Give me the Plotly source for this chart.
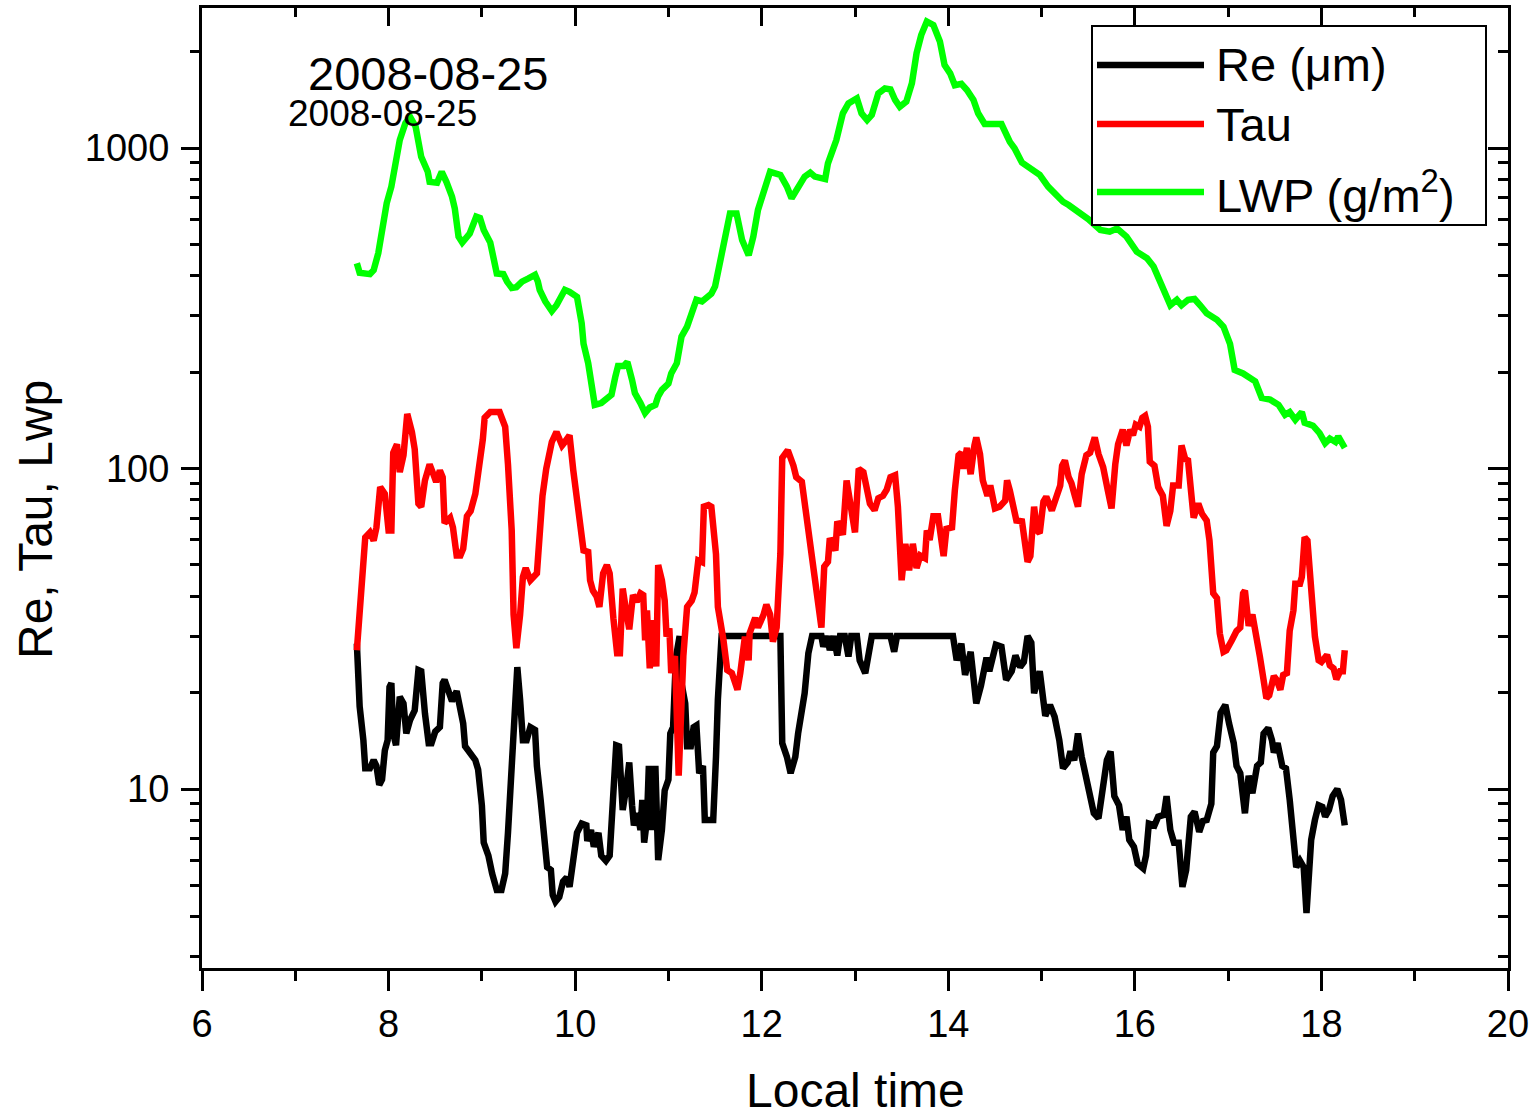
import plotly.graph_objects as go

# ---------------- data ----------------
re_time = [7.66,7.69,7.73,7.75,7.80,7.84,7.87,7.90,7.93,7.96,
           7.99,8.01,8.03,8.05,8.08,8.12,8.16,8.19,8.23,8.28,
           8.32,8.35,8.39,8.43,8.46,8.50,8.55,8.58,8.60,8.64,
           8.68,8.73,8.77,8.80,8.82,8.87,8.93,8.96,9.00,9.02,
           9.07,9.11,9.16,9.21,9.25,9.28,9.32,9.36,9.38,9.41,
           9.44,9.48,9.52,9.57,9.59,9.63,9.67,9.70,9.74,9.76,
           9.79,9.83,9.87,9.91,9.94,9.98,10.02,10.07,10.12,10.13,
           10.17,10.20,10.25,10.28,10.33,10.37,10.40,10.44,10.47,10.51,
           10.55,10.58,10.61,10.63,10.67,10.70,10.72,10.74,10.77,10.79,
           10.82,10.86,10.89,10.93,10.96,11.00,11.02,11.05,11.08,11.12,
           11.14,11.18,11.20,11.24,11.27,11.30,11.33,11.37,11.39,11.45,
           11.48,11.51,11.53,11.57,12.16,12.20,12.22,12.27,12.31,12.36,
           12.39,12.46,12.50,12.54,12.64,12.66,12.70,12.73,12.77,12.81,
           12.84,12.89,12.93,12.96,13.02,13.05,13.11,13.14,13.18,13.38,
           13.42,13.45,14.05,14.09,14.14,14.18,14.24,14.30,14.35,14.41,
           14.44,14.51,14.57,14.62,14.68,14.72,14.77,14.81,14.85,14.89,
           14.92,14.98,15.04,15.09,15.14,15.19,15.23,15.28,15.31,15.35,
           15.39,15.43,15.48,15.52,15.56,15.61,15.66,15.70,15.74,15.78,
           15.83,15.87,15.91,15.94,15.99,16.03,16.09,16.12,16.15,16.21,
           16.25,16.31,16.34,16.38,16.42,16.47,16.51,16.55,16.60,16.64,
           16.69,16.73,16.77,16.82,16.84,16.88,16.92,16.97,17.01,17.06,
           17.09,17.13,17.18,17.22,17.26,17.31,17.35,17.38,17.43,17.47,
           17.49,17.53,17.58,17.62,17.66,17.69,17.73,17.77,17.81,17.84,
           17.87,17.89,17.93,17.97,18.01,18.04,18.08,18.12,18.17,18.21,
           18.25]
re_val = [28.4,18.1,14.2,11.6,11.6,12.3,11.8,10.3,10.7,13.2,
          14.2,20.8,21.4,14.9,13.7,19.4,18.5,14.9,16.4,17.6,
          23.5,23.3,17.2,13.9,13.9,15.1,15.6,21.4,21.9,20.4,
          18.8,20.2,18.1,16.0,13.6,13.0,12.3,11.5,8.9,6.8,
          6.2,5.45,4.84,4.84,5.45,7.3,11.8,22.6,24.0,19.0,
          14.2,14.2,15.6,15.3,11.8,9.25,7.3,5.7,5.59,4.67,
          4.45,4.6,5.14,5.3,4.95,6.2,7.3,7.8,7.7,6.88,
          7.45,6.6,7.3,6.2,5.97,6.2,9.7,13.7,13.6,8.6,
          10.2,12.1,8.9,7.7,8.4,7.45,9.25,6.8,8.0,11.8,
          7.45,11.8,6.0,7.45,9.9,10.7,14.9,15.6,25.7,30,
          21.4,18.5,13.6,13.6,15.6,15.8,11.2,11.8,8.0,7.95,
          8.0,12.6,19,30,30,30,13.9,12.6,11.2,12.6,
          14.9,19.9,26.5,30,30,27.8,30,27.1,30,26.1,
          30,30,25.9,30,30,25.2,23,25.2,30,30,
          26.8,30,30,25.2,28.4,22.7,26.8,18.5,21,25.7,
          23.3,28.2,27.8,21.9,23.3,26.1,24,24.9,30,28.6,
          19.9,23.3,16.9,18.3,16.8,14.2,11.6,12.1,13.1,12.3,
          14.9,12.6,10.7,9.55,8.4,8.1,10.2,12.3,13.1,9.5,
          8.9,7.45,8.2,6.94,6.6,5.85,5.65,6.2,7.8,7.7,
          8.2,8.3,9.5,7.45,6.8,6.8,4.95,5.59,8.2,8.5,
          7.35,7.95,8.0,9.0,13.0,13.6,17.3,18.3,16.0,13.9,
          11.8,11.2,8.4,11.0,9.7,11.8,12.1,14.9,15.5,14.2,
          13.0,13.9,11.8,11.6,9.25,7.3,5.7,5.97,5.7,4.1,
          5.45,6.94,8.0,8.9,8.8,8.2,8.6,9.5,10.0,9.25,
          7.7]

tau_time = [7.66,7.69,7.75,7.80,7.84,7.87,7.91,7.96,8.00,8.03,
            8.05,8.09,8.12,8.16,8.20,8.25,8.28,8.32,8.35,8.39,
            8.44,8.48,8.51,8.55,8.58,8.60,8.66,8.69,8.73,8.77,
            8.80,8.84,8.88,8.93,8.98,9.01,9.03,9.09,9.19,9.25,
            9.28,9.32,9.34,9.37,9.41,9.44,9.47,9.52,9.59,9.62,
            9.65,9.69,9.75,9.80,9.86,9.89,9.94,9.98,10.03,10.09,
            10.14,10.16,10.19,10.23,10.26,10.30,10.34,10.37,10.41,10.45,
            10.48,10.51,10.54,10.58,10.62,10.66,10.70,10.73,10.75,10.77,
            10.80,10.84,10.87,10.89,10.93,10.96,10.98,11.01,11.03,11.07,
            11.11,11.16,11.20,11.25,11.28,11.32,11.36,11.38,11.43,11.46,
            11.51,11.53,11.59,11.63,11.68,11.74,11.77,11.82,11.86,11.87,
            11.93,11.96,12.02,12.05,12.09,12.12,12.16,12.20,12.22,12.28,
            12.34,12.37,12.43,12.46,12.52,12.57,12.64,12.67,12.71,12.73,
            12.79,12.81,12.87,12.91,12.96,13.00,13.04,13.09,13.16,13.21,
            13.25,13.30,13.34,13.38,13.43,13.46,13.50,13.54,13.58,13.62,
            13.66,13.70,13.75,13.77,13.80,13.84,13.89,13.93,13.95,13.98,
            14.04,14.07,14.11,14.14,14.16,14.20,14.24,14.28,14.30,14.34,
            14.37,14.42,14.45,14.50,14.55,14.61,14.63,14.66,14.70,14.73,
            14.79,14.81,14.85,14.88,14.92,14.95,14.98,15.02,15.05,15.11,
            15.16,15.20,15.22,15.25,15.29,15.32,15.36,15.39,15.43,15.48,
            15.52,15.57,15.61,15.66,15.71,15.75,15.79,15.82,15.87,15.91,
            15.95,15.98,16.01,16.05,16.08,16.11,16.14,16.16,16.21,16.25,
            16.30,16.34,16.38,16.41,16.47,16.50,16.54,16.57,16.63,16.68,
            16.72,16.77,16.80,16.84,16.88,16.91,16.95,16.98,17.04,17.09,
            17.13,17.16,17.18,17.22,17.26,17.31,17.34,17.38,17.41,17.44,
            17.49,17.52,17.56,17.59,17.63,17.66,17.70,17.72,17.77,17.79,
            17.82,17.85,17.88,17.90,17.93,17.97,18.00,18.06,18.09,18.13,
            18.16,18.20,18.23,18.25]
tau_val = [27.1,35.0,61.0,63.2,59.6,65.5,87.5,83.3,64.1,64.1,
           112,119,97.4,110,148,130,115,77.7,76.0,91.8,
           103,96,90.8,98.6,94,67.6,70.2,65.5,53.5,53.5,
           56.2,71,73.7,83.3,105,123,144,150,150,135,
           103,64.1,35.0,27.5,35.0,45.9,48.9,44.8,47.1,67.6,
           82.2,99.8,121,130,118,121,127,98.6,76.9,55.5,
           54.9,44.8,41.6,39.9,37.0,47.1,50.0,47.1,34.1,26.5,
           26.5,42.2,37.0,31.5,40.3,38.4,40.8,40.3,29.1,36.1,
           23.8,33.6,24.1,50.0,44.8,38.7,29.9,31.7,23.0,26.0,
           11.0,26.0,37.0,38.7,41.0,51.6,51.0,76.0,76.9,76.0,
           54.0,37.0,29.1,23.5,23.0,20.4,23.0,29.9,25.2,30.6,
           34.2,31.9,35.0,37.6,35.0,28.8,31.9,54.2,108,114,
           102,94,91,78,54.2,42.7,31.9,49.4,51.2,60.6,
           55.5,68.4,62.1,91.8,73.7,63.2,99.8,97.4,77.7,74.1,
           80.8,82.2,85.9,94,95.3,76,44.8,58.2,48.1,58.2,
           48.9,53.5,52.5,64.1,59.8,71,71,57.4,53.3,64.8,
           65.5,85.4,110,112,99.8,116,96,118,125,111,
           91.8,82.2,88.5,75.1,76,79.4,91.8,85.4,76,68.8,
           68.4,63.2,51.2,53.3,76,64.1,62.9,78.8,81.6,74,
           80.8,88.5,102,106,94,90,81.6,76,96,110,
           112,125,111,101,85.4,75.1,103,119,132,118,
           132,127,137,135,144,146,135,105,102,87.5,
           82.2,66.2,73.7,88.5,88.5,118,107,106,70.2,77.7,
           72.2,68.8,59.6,40.8,39.4,30.6,26.8,27.1,29.1,31.1,
           31.9,40.8,41.6,32.3,35,27.8,25.9,21.9,19.2,19.6,
           22.5,21.9,20.4,22.7,23.0,31.2,36.1,43.7,43.7,45.9,
           61,59.6,47.1,36.1,29.9,25.2,24.9,26.2,24.3,23.8,
           22.0,23.3,23.3,27.1]

lwp_time = [7.66,7.69,7.80,7.84,7.89,7.94,7.98,8.03,8.07,8.12,
            8.18,8.23,8.29,8.35,8.42,8.44,8.52,8.57,8.62,8.68,
            8.71,8.75,8.79,8.87,8.94,8.98,9.02,9.09,9.16,9.23,
            9.27,9.32,9.37,9.43,9.50,9.57,9.60,9.62,9.68,9.75,
            9.80,9.84,9.89,9.94,10.02,10.07,10.09,10.14,10.18,10.21,
            10.28,10.34,10.39,10.43,10.46,10.52,10.56,10.61,10.64,10.70,
            10.75,10.80,10.86,10.89,10.93,11.00,11.03,11.09,11.14,11.20,
            11.25,11.30,11.36,11.41,11.46,11.50,11.55,11.61,11.66,11.73,
            11.79,11.86,11.91,11.96,12.02,12.09,12.20,12.27,12.32,12.37,
            12.46,12.52,12.57,12.68,12.71,12.80,12.87,12.93,13.02,13.07,
            13.13,13.18,13.25,13.32,13.38,13.43,13.48,13.55,13.61,13.66,
            13.71,13.77,13.84,13.91,13.96,14.02,14.07,14.14,14.20,14.27,
            14.32,14.39,14.50,14.57,14.66,14.71,14.79,14.88,14.98,15.07,
            15.13,15.18,15.23,15.29,15.38,15.50,15.63,15.73,15.81,15.91,
            16.02,16.13,16.20,16.30,16.38,16.45,16.50,16.57,16.64,16.70,
            16.77,16.88,16.95,17.02,17.07,17.16,17.29,17.36,17.45,17.54,
            17.61,17.66,17.72,17.79,17.82,17.91,17.98,18.04,18.09,18.15,
            18.18,18.25]
lwp_val = [437,408,404,416,470,582,673,758,896,1059,
           1194,1252,1166,939,843,784,779,843,784,705,
           647,529,507,541,611,605,555,507,406,404,
           383,366,368,383,392,402,383,361,332,310,
           323,339,361,356,343,284,245,213,176,158,
           160,166,170,193,209,209,215,189,172,160,
           149,155,158,168,176,184,198,213,258,277,
           305,336,332,343,351,370,430,516,625,625,
           516,463,529,641,722,843,824,758,697,739,
           814,838,814,800,896,1059,1283,1378,1429,1283,
           1222,1268,1480,1535,1523,1412,1345,1395,1593,1975,
           2250,2480,2420,2150,1815,1710,1570,1585,1517,1412,
           1283,1188,1180,1188,1045,998,900,864,824,758,
           730,697,680,664,637,600,555,548,561,529,
           475,453,427,366,323,336,323,336,338,323,
           305,291,277,245,203,198,187,166,164,158,
           147,150,142,150,139,136,129,120,124,121,
           126,116]

series_names = ["Re (\u03bcm)", "Tau", "LWP (g/m<sup>2</sup>)"]
series_colors = ["#000000", "#ff0000", "#00ff00"]
annotation_big = "2008-08-25"
annotation_small = "2008-08-25"
x_title = "Local time"
y_title = "Re, Tau, Lwp"

x_major = [6, 8, 10, 12, 14, 16, 18, 20]
x_minor = [7, 9, 11, 13, 15, 17, 19]
y_major = [10, 100, 1000]
y_major_text = ["10", "100", "1000"]
y_minor = [3, 4, 5, 6, 7, 8, 9, 20, 30, 40, 50, 60, 70, 80, 90,
           200, 300, 400, 500, 600, 700, 800, 900, 2000]

# ---------------- layout geometry ----------------
W, H = 1537, 1117
L, R, T, B = 202, 29, 8, 149
PW, PH = W - L - R, H - T - B
FONT = "Liberation Sans, Arial, Helvetica, sans-serif"


def px(x):
    return (x - L) / PW


def py(y):
    return (H - B - y) / PH


LINE_W = 6.5

fig = go.Figure()
for xs, ys, name, col in [(re_time, re_val, series_names[0], series_colors[0]),
                          (tau_time, tau_val, series_names[1], series_colors[1]),
                          (lwp_time, lwp_val, series_names[2], series_colors[2])]:
    fig.add_trace(go.Scatter(x=xs, y=ys, mode="lines", name=name,
                             line=dict(color=col, width=LINE_W),
                             showlegend=False))

# transparent trace so the mirrored (top/right) axes are drawn
fig.add_trace(go.Scatter(x=lwp_time, y=lwp_val, xaxis="x2", yaxis="y2",
                         mode="lines", line=dict(width=0, color="rgba(0,0,0,0)"),
                         hoverinfo="skip", showlegend=False))

yrange = [0.4415, 3.4368]
tickfont = dict(family=FONT, size=38, color="black")

fig.update_layout(
    width=W, height=H,
    margin=dict(l=L, r=R, t=T, b=B, pad=0),
    paper_bgcolor="white", plot_bgcolor="white",
    font=dict(family=FONT, color="black"),
    showlegend=False,
    xaxis=dict(range=[6, 20], showline=True, linewidth=3, linecolor="black",
               ticks="outside", tickmode="array", tickvals=x_major,
               ticklen=20, tickwidth=3, tickcolor="black",
               minor=dict(tickmode="array", tickvals=x_minor, ticks="outside",
                          ticklen=10, tickwidth=3, tickcolor="black", showgrid=False),
               showgrid=False, zeroline=False, tickfont=tickfont),
    yaxis=dict(type="log", range=yrange, showline=True, linewidth=3, linecolor="black",
               ticks="outside", tickmode="array", tickvals=y_major, ticktext=y_major_text,
               ticklen=18, tickwidth=3, tickcolor="black", ticklabelstandoff=4,
               minor=dict(tickmode="array", tickvals=y_minor, ticks="outside",
                          ticklen=9, tickwidth=3, tickcolor="black", showgrid=False),
               showgrid=False, zeroline=False, tickfont=tickfont),
    xaxis2=dict(range=[6, 20], overlaying="x", side="top", anchor="y",
                showline=True, linewidth=3, linecolor="black",
                ticks="inside", tickmode="array", tickvals=x_major,
                ticklen=18, tickwidth=3, tickcolor="black",
                minor=dict(tickmode="array", tickvals=x_minor, ticks="inside",
                           ticklen=9, tickwidth=3, tickcolor="black", showgrid=False),
                showticklabels=False, showgrid=False, zeroline=False),
    yaxis2=dict(type="log", range=yrange, overlaying="y", side="right", anchor="x",
                showline=True, linewidth=3, linecolor="black",
                ticks="inside", tickmode="array", tickvals=y_major,
                ticklen=20, tickwidth=3, tickcolor="black",
                minor=dict(tickmode="array", tickvals=y_minor, ticks="inside",
                           ticklen=10, tickwidth=3, tickcolor="black", showgrid=False),
                showticklabels=False, showgrid=False, zeroline=False),
)

shapes = []
annotations = []

# custom legend box
shapes.append(dict(type="rect", xref="paper", yref="paper",
                   x0=px(1092), x1=px(1486), y0=py(225), y1=py(26),
                   line=dict(color="black", width=2), fillcolor="white", layer="above"))
legend_rows = [65, 124, 192]
for name, col, yc in zip(series_names, series_colors, legend_rows):
    shapes.append(dict(type="line", xref="paper", yref="paper",
                       x0=px(1097), x1=px(1204), y0=py(yc), y1=py(yc),
                       line=dict(color=col, width=LINE_W), layer="above"))
    annotations.append(dict(xref="paper", yref="paper", x=px(1214), y=py(yc),
                            xanchor="left", yanchor="middle", showarrow=False,
                            text=name, font=dict(family=FONT, size=47, color="black")))

annotations.append(dict(xref="paper", yref="paper", x=px(428), y=py(73),
                        xanchor="center", yanchor="middle", showarrow=False,
                        text=annotation_big, font=dict(family=FONT, size=47, color="black")))
annotations.append(dict(xref="paper", yref="paper", x=px(382), y=py(113),
                        xanchor="center", yanchor="middle", showarrow=False,
                        text=annotation_small, font=dict(family=FONT, size=37, color="black")))
annotations.append(dict(xref="paper", yref="paper", x=px(855), y=py(1090),
                        xanchor="center", yanchor="middle", showarrow=False,
                        text=x_title, font=dict(family=FONT, size=48, color="black")))
annotations.append(dict(xref="paper", yref="paper", x=px(35), y=py(520),
                        xanchor="center", yanchor="middle", showarrow=False,
                        textangle=-90,
                        text=y_title, font=dict(family=FONT, size=48, color="black")))

fig.update_layout(shapes=shapes, annotations=annotations)

fig.write_html("out.html")
